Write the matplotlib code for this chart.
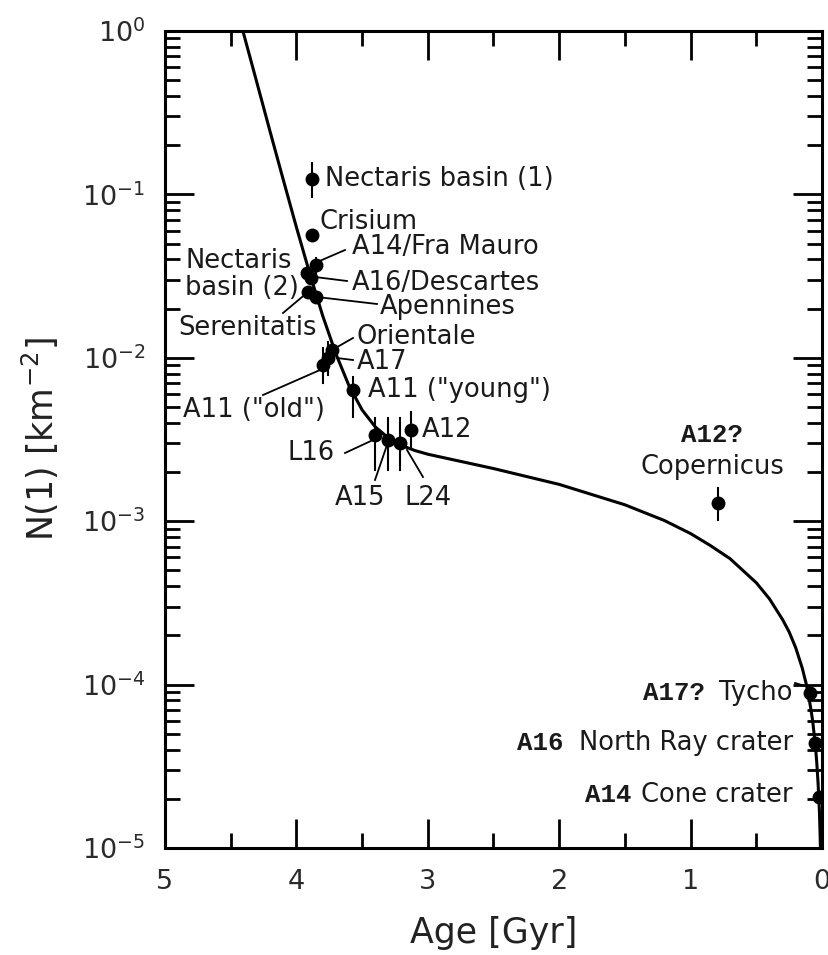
import numpy as np
import matplotlib
matplotlib.use("Agg")
import matplotlib.pyplot as plt
from matplotlib.ticker import LogLocator, MultipleLocator, NullFormatter

plt.rcParams['font.family'] = ['DejaVu Sans']
plt.rcParams['mathtext.fontset'] = 'dejavusans'

# ---- chronology curve ----
curve_age = [4.41, 4.3, 4.2, 4.1, 4.0, 3.9, 3.8, 3.7, 3.6, 3.5, 3.4, 3.3, 3.2, 3.1, 3.0,
             2.5, 2.0, 1.5, 1.2, 1.0, 0.85, 0.7, 0.5, 0.4, 0.3, 0.25, 0.2, 0.15, 0.12,
             0.1, 0.08, 0.07, 0.05, 0.04, 0.03, 0.02, 0.015, 0.012]
curve_n = [1.02, 0.481, 0.242, 0.123, 0.063, 0.0331, 0.0181, 0.0106, 0.00675, 0.0048,
           0.00378, 0.00323, 0.00291, 0.00271, 0.00257, 0.00210, 0.00168, 0.00126,
           0.00101, 0.00084, 0.00071, 0.00059, 0.00042, 0.000335, 0.00025, 0.00021,
           0.000168, 0.000126, 0.000101, 8.4e-5, 6.7e-5, 5.9e-5, 4.2e-5, 3.35e-5,
           2.5e-5, 1.7e-5, 1.26e-5, 1.0e-5]

# ---- dated sites ----
site_names = ["Nectaris basin (1)", "Crisium", "A14/Fra Mauro", "Nectaris basin (2)",
              "A16/Descartes", "Serenitatis", "Apennines", "Orientale", "A17",
              "A11 (old)", "A11 (young)", "A12", "L16", "A15", "L24",
              "Copernicus", "Tycho", "North Ray", "Cone"]
site_age = [3.88, 3.88, 3.85, 3.92, 3.89, 3.91, 3.85, 3.73, 3.76, 3.80, 3.57, 3.13,
            3.40, 3.30, 3.21, 0.79, 0.09, 0.05, 0.025]
site_n = [0.124, 0.0565, 0.037, 0.033, 0.031, 0.0253, 0.0235, 0.0112, 0.0100, 0.0090,
          0.00635, 0.00361, 0.00337, 0.00314, 0.0030, 0.00129, 8.9e-5, 4.4e-5, 2.05e-5]
site_lo = [0.096, None, 0.033, None, None, None, None, None, 0.0078, 0.0070,
           0.00434, 0.00284, 0.00206, 0.00206, 0.00206, 0.00102, None, None, None]
site_hi = [0.155, None, 0.041, None, None, None, None, None, 0.0125, 0.0115,
           0.00763, 0.00466, 0.00430, 0.00430, 0.00430, 0.0016, None, None, None]

fig = plt.figure(figsize=(8.29, 9.55), dpi=100)
ax = fig.add_axes([165/829, 1-848/955, (822-165)/829, (848-31)/955])

# pixel -> data helper for label layout
def P(px, py):
    return 5 - (px - 165) / 131.4, 10 ** (-(py - 31) / 163.4)

ax.plot(curve_age, curve_n, color='black', lw=2.2, zorder=2)
for a, n, lo, hi in zip(site_age, site_n, site_lo, site_hi):
    if lo is not None:
        ax.plot([a, a], [lo, hi], color='black', lw=1.5, zorder=3)
ax.plot(site_age, site_n, 'o', color='black', ms=9, zorder=4)

ax.set_yscale('log')
ax.set_xlim(5, 0)
ax.set_ylim(1e-5, 1)

for s in ax.spines.values():
    s.set_linewidth(2.2)
ax.xaxis.set_major_locator(MultipleLocator(1))
ax.xaxis.set_minor_locator(MultipleLocator(0.5))
ax.yaxis.set_major_locator(LogLocator(base=10, numticks=10))
ax.yaxis.set_minor_locator(LogLocator(base=10, subs=np.arange(2, 10), numticks=20))
ax.yaxis.set_minor_formatter(NullFormatter())
ax.tick_params(which='both', direction='in', top=True, right=True, width=2.0,
               labelsize=19.5, labelcolor='#2a2a2a')
ax.tick_params(which='major', length=21)
ax.tick_params(which='minor', length=11)
ax.tick_params(axis='x', pad=15)
ax.tick_params(axis='y', pad=14)

ax.set_xlabel("Age [Gyr]", fontsize=25, labelpad=15, color='#222222')
ax.set_ylabel("N(1) [km$^{-2}$]", fontsize=25, labelpad=15, color='#222222')

fs = 18.5
def label(text, px, py, ha='left', **kw):
    x, y = P(px, py)
    return ax.text(x, y, text, ha=ha, va='center', fontsize=fs, color='#1a1a1a', **kw)

def leader(p1, p2):
    x1, y1 = P(*p1)
    x2, y2 = P(*p2)
    ax.plot([x1, x2], [y1, y2], color='black', lw=1.3, zorder=3)

label("Nectaris basin (1)", 325, 179)
label("Crisium", 320, 222)
label("A14/Fra Mauro", 352, 247)
leader((345, 250), (315, 263))
label("Nectaris", 185, 261)
label("basin (2)", 185, 288)
label("A16/Descartes", 352, 283)
leader((347, 281), (315, 277))
label("Apennines", 380, 307)
leader((377, 304), (317, 297))
label("Serenitatis", 178, 328)
leader((283, 313), (308, 292))
label("Orientale", 357, 337)
leader((353, 338), (332, 350))
label("A17", 357, 362)
leader((353, 360), (337, 358))
label('A11 ("old")', 183, 410)
leader((263, 395), (320, 370))
label('A11 ("young")', 368, 390)
label("A12", 422, 430)
label("L16", 287, 453)
leader((345, 453), (373, 440))
label("A15", 335, 498)
leader((375, 480), (387, 445))
label("L24", 405, 498)
leader((423, 477), (407, 450))

mono = dict(family='Liberation Mono', fontweight='bold')
label("A12?", 712, 435, ha='center', **mono)
label("Copernicus", 712, 467, ha='center')

fig.canvas.draw()
renderer = fig.canvas.get_renderer()
for sans, mtxt, py, gap in [("Tycho", "A17?", 693, 14), ("North Ray crater", "A16", 743, 15),
                            ("Cone crater", "A14", 795, 10)]:
    t = label(sans, 793, py, ha='right')
    bb = t.get_window_extent(renderer)
    label(mtxt, bb.x0 - gap, py, ha='right', **mono)
leader((795, 683), (812, 688))

fig.savefig("out.png", dpi=100)
